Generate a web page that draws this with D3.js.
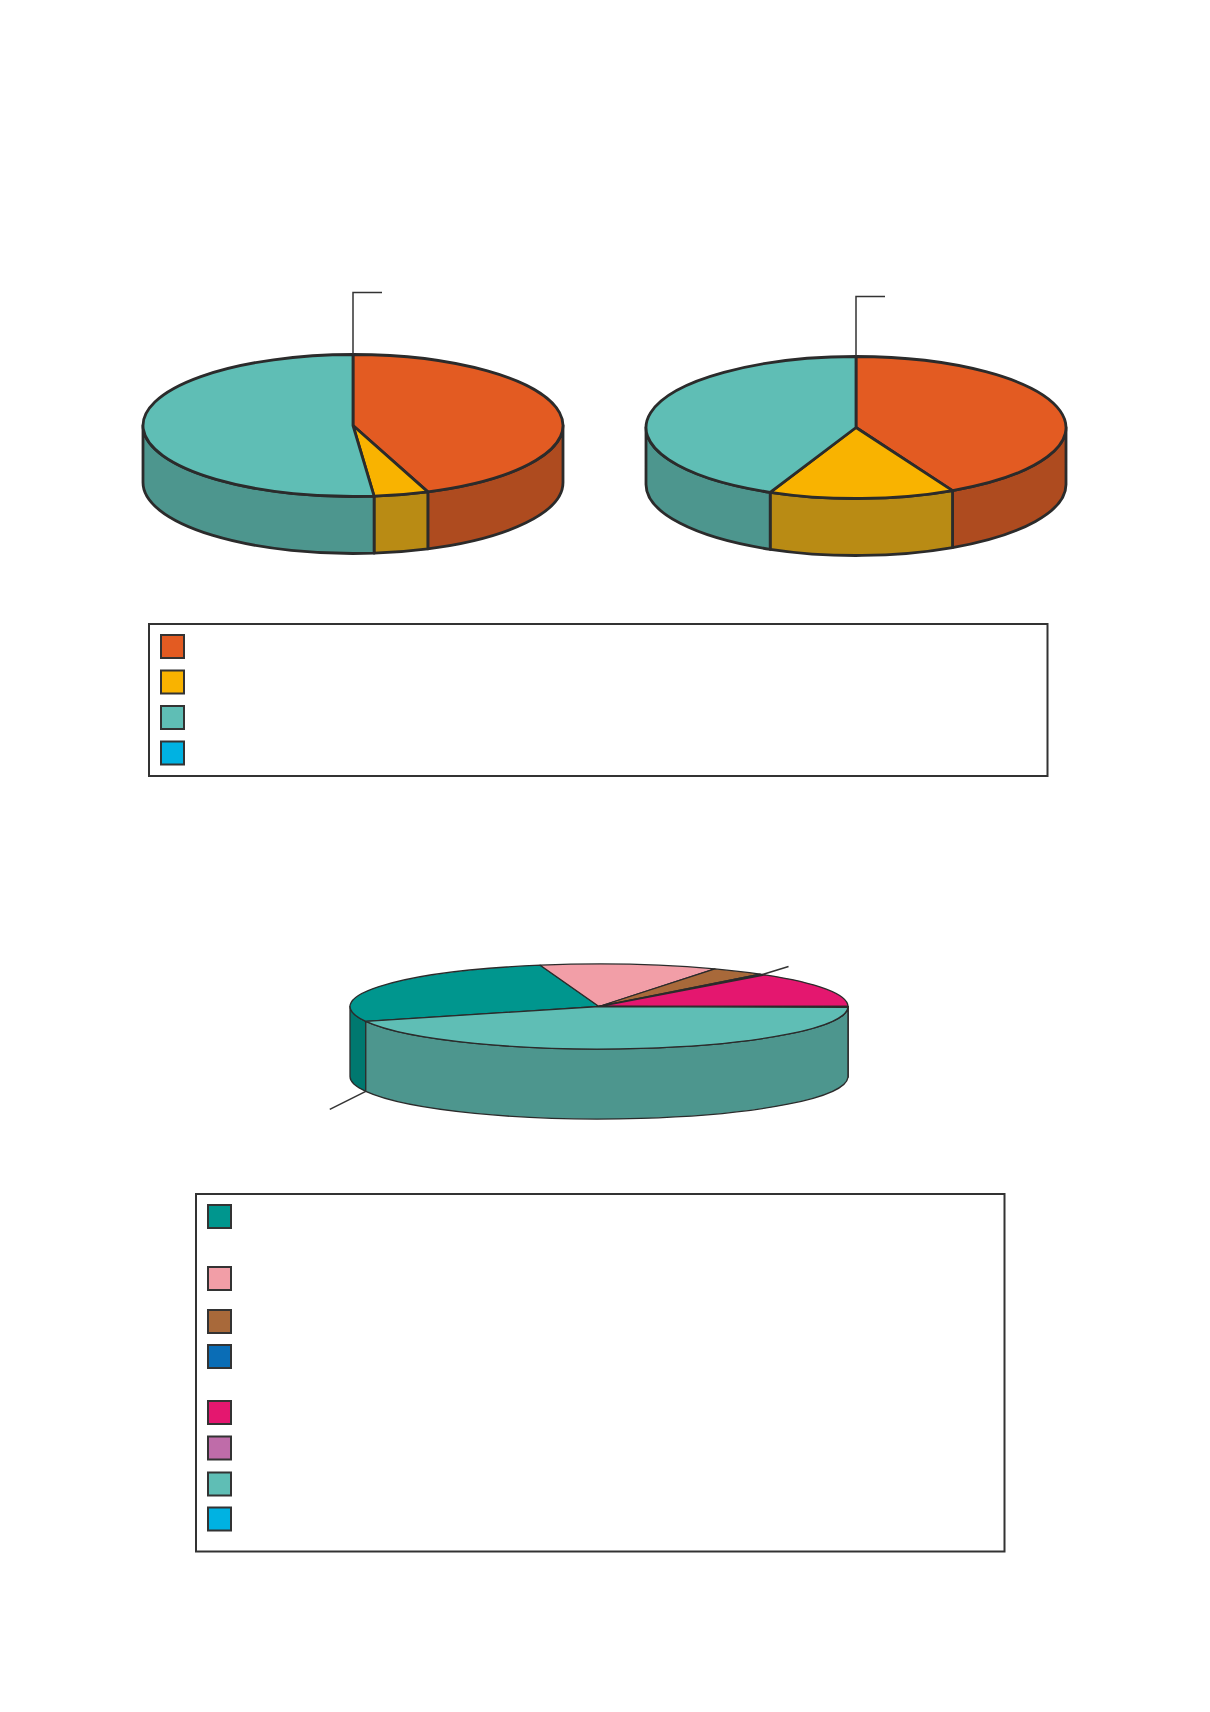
<!DOCTYPE html>
<html>
<head>
<meta charset="utf-8">
<script src="https://cdn.jsdelivr.net/npm/d3@7"></script>
<style>
  body { margin: 0; background: #fff; }
  svg { display: block; }
</style>
</head>
<body>
<svg id="chart"></svg>
<script>
// slice ids (the legend labels are blank in the source)
var catsTop = ["s1", "s2", "s3", "s4"];
var pie1Values = [44.2, 4.2, 51.6, 0];
var pie2Values = [42.4, 14.3, 43.3, 0];

var catsBottom = ["b1", "b2", "b3", "b4", "b5", "b6", "b7", "b8"];
var pie3Values = [26.9, 11.5, 3.5, 0.4, 13.4, 0.3, 44.0, 0];

var topColors = ["#E35B22", "#F9B300", "#5FBEB5", "#00B2E2"];
var topSides = ["#AE4B1F", "#B98B14", "#4D968E", "#008AAF"];
var botColors = ["#00968E", "#F29EA7", "#A8693A", "#0A6DB6", "#E4176F", "#BF6CA9", "#5FBEB5", "#00B2E2"];
var botSides = ["#00786F", "#C07F86", "#86532E", "#085790", "#B41258", "#985687", "#4D968E", "#008AAF"];

var svg = d3.select("#chart").attr("width", 1210).attr("height", 1712);

function pt(o, a, dy) {
	return [o.cx + o.rx * Math.sin(a), o.cy - o.ry * Math.cos(a) + (dy || 0)];
}

function drawPie(values, cats, colors, sides, o) {
	var fill = d3.scaleOrdinal().domain(cats).range(colors);
	var sideFill = d3.scaleOrdinal().domain(cats).range(sides);
	var data = cats.map(function(c, i) { return {key: c, value: values[i]}; });
	var pie = d3.pie()
		.sort(null)
		.value(function(d) { return d.value; })
		.startAngle(o.start)
		.endAngle(o.start + 2 * Math.PI);
	var arcs = pie(data);

	var g = svg.append("g");

	// visible side walls (front half of the cylinder)
	arcs.forEach(function(d) {
		if (d.value <= 0) return;
		[-1, 0, 1].forEach(function(k) {
			var lo = Math.max(d.startAngle, Math.PI / 2 + 2 * Math.PI * k);
			var hi = Math.min(d.endAngle, 3 * Math.PI / 2 + 2 * Math.PI * k);
			if (hi <= lo) return;
			var p0 = pt(o, lo), p1 = pt(o, hi);
			var q0 = pt(o, lo, o.depth), q1 = pt(o, hi, o.depth);
			g.append("path")
				.attr("d", "M" + p0 + "A" + o.rx + "," + o.ry + " 0 0 1 " + p1 +
					"L" + q1 + "A" + o.rx + "," + o.ry + " 0 0 0 " + q0 + "Z")
				.attr("fill", sideFill(d.data.key))
				.attr("stroke", "#2b2b2b")
				.attr("stroke-width", o.sw)
				.attr("stroke-linejoin", "round");
		});
	});

	// top faces
	arcs.forEach(function(d) {
		if (d.value <= 0) return;
		var p0 = pt(o, d.startAngle), p1 = pt(o, d.endAngle);
		var large = (d.endAngle - d.startAngle) > Math.PI ? 1 : 0;
		g.append("path")
			.attr("d", "M" + [o.cx, o.cy] + "L" + p0 + "A" + o.rx + "," + o.ry +
				" 0 " + large + " 1 " + p1 + "Z")
			.attr("fill", fill(d.data.key))
			.attr("stroke", "#2b2b2b")
			.attr("stroke-width", o.sw)
			.attr("stroke-linejoin", "round");
	});

	// leader lines for the label-less small slices
	o.leaders.forEach(function(L) {
		var d = arcs[L.index];
		var mid = (d.startAngle + d.endAngle) / 2;
		var p = pt(o, mid, L.bottom ? o.depth : 0);
		var pts = [p];
		L.steps.forEach(function(s) {
			var last = pts[pts.length - 1];
			pts.push([last[0] + s[0], last[1] + s[1]]);
		});
		g.append("path")
			.attr("d", d3.line()(pts))
			.attr("fill", "none")
			.attr("stroke", "#333")
			.attr("stroke-width", 1.5);
	});
}

drawPie(pie1Values, catsTop, topColors, topSides, {
	cx: 353, cy: 425.5, rx: 210, ry: 71, depth: 57, start: 0, sw: 2.8,
	leaders: [{index: 3, steps: [[0, -62], [29, 0]]}]
});

drawPie(pie2Values, catsTop, topColors, topSides, {
	cx: 856, cy: 427.5, rx: 210, ry: 71, depth: 57, start: 0, sw: 2.8,
	leaders: [{index: 3, steps: [[0, -60], [29, 0]]}]
});

drawPie(pie3Values, catsBottom, botColors, botSides, {
	cx: 599, cy: 1006.5, rx: 249, ry: 42.5, depth: 70, start: -110.5 * Math.PI / 180, sw: 1.3,
	leaders: [
		{index: 3, steps: [[26, -8]]},
		{index: 7, bottom: true, steps: [[-36, 18]]}
	]
});

// legends
function drawLegend(cats, colors, box, rows) {
	var color = d3.scaleOrdinal().domain(cats).range(colors);
	var g = svg.append("g");
	g.append("rect")
		.attr("x", box.x).attr("y", box.y)
		.attr("width", box.w).attr("height", box.h)
		.attr("fill", "#fff")
		.attr("stroke", "#333")
		.attr("stroke-width", 2);
	g.selectAll(".sw")
		.data(cats)
		.enter()
		.append("rect")
			.attr("class", "sw")
			.attr("x", box.x + 12)
			.attr("y", function(d, i) { return box.y + 11 + rows[i]; })
			.attr("width", 23)
			.attr("height", 23)
			.attr("fill", function(d) { return color(d); })
			.attr("stroke", "#333")
			.attr("stroke-width", 2);
}

drawLegend(catsTop, topColors, {x: 149, y: 624, w: 898.5, h: 152}, [0, 35.5, 71, 106.5]);
drawLegend(catsBottom, botColors, {x: 196, y: 1194, w: 808.5, h: 357.5},
	[0, 62, 105, 140, 196, 231.5, 267.5, 302.5]);
</script>
</body>
</html>
